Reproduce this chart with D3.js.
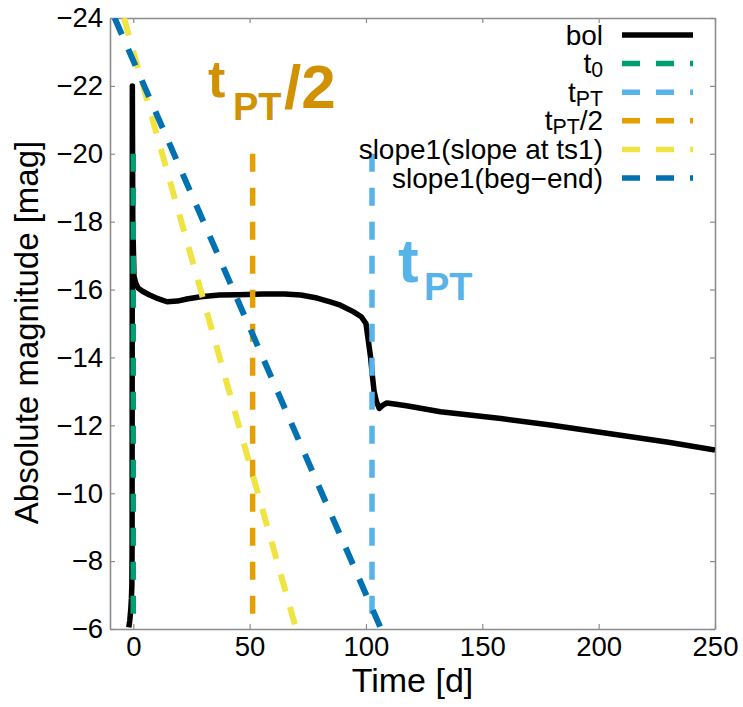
<!DOCTYPE html>
<meta charset="utf-8">
<style>
body { margin: 0; background: #fff; }
text { font-family: "Liberation Sans", Arial, Helvetica, sans-serif; }
</style>
<svg width="743" height="707"></svg>
<script src="https://cdn.jsdelivr.net/npm/d3@7"></script>
<script>
// bolometric light curve
var bolTime = [-1.9, -1.5, -1.1, -0.8, -0.6, -0.5, -0.4, -0.2, 0.3, 1, 2, 4, 7, 10, 14.5, 19, 23, 29, 37, 45, 56, 65, 72, 79, 85, 89, 94.5, 98, 100, 101, 102, 102.7, 103.5, 104.5, 105.7, 107, 109, 113, 118, 132, 158, 180, 205, 230, 250];
var bolMag  = [-6.05, -6.25, -6.55, -6.9, -7.3, -8.5, -22, -18, -16.4, -16.2, -16.05, -15.95, -15.84, -15.75, -15.64, -15.66, -15.72, -15.79, -15.84, -15.85, -15.87, -15.87, -15.84, -15.75, -15.63, -15.54, -15.35, -15.2, -15.0, -14.5, -14.0, -13.5, -13.0, -12.7, -12.5, -12.58, -12.66, -12.62, -12.57, -12.4, -12.2, -12.0, -11.75, -11.5, -11.27];

// vertical markers: t0, tPT, tPT/2
var markNames = ["t0", "tPT", "tPT/2"];
var markTimes = [0, 102.6, 51.3];
var markMag = [-20, -6];

// the two slope lines (end points)
var slopeTs1Time = [-4, 70],     slopeTs1Mag = [-24, -6];
var slopeBegEndTime = [-8, 106.5], slopeBegEndMag = [-24, -6];

var xTicks = [0, 50, 100, 150, 200, 250];
var yTicks = [-24, -22, -20, -18, -16, -14, -12, -10, -8, -6];

var legendLabels = ["bol", "t_{0}", "t_{PT}", "t_{PT}/2", "slope1(slope at ts1)", "slope1(beg\u2212end)"];
var legendColors = ["#000000", "#009e73", "#56b4e9", "#e69f00", "#f0e442", "#0072b2"];

var svg = d3.select("svg"),
    margin = {top: 18, right: 28, bottom: 78, left: 110},
    W = +svg.attr("width"), H = +svg.attr("height");

var x = d3.scaleLinear().domain([-10, 250]).range([margin.left, W - margin.right]);
var y = d3.scaleLinear().domain([-24, -6]).range([margin.top, H - margin.bottom]);

var dash = "18,16";
var font = '"Liberation Sans", Arial, Helvetica, sans-serif';

svg.append("clipPath").attr("id", "plot")
  .append("rect")
    .attr("x", x.range()[0]).attr("y", y.range()[0])
    .attr("width", x.range()[1] - x.range()[0])
    .attr("height", y.range()[1] - y.range()[0]);

// axes (ticks point inward, mirrored on top/right)
function styleAxis(g) {
  g.attr("color", "#8c8c8c").attr("font-size", 27.5).attr("font-family", font);
  g.select(".domain").attr("stroke-width", 1.6);
  g.selectAll(".tick line").attr("stroke-width", 1.2);
  g.selectAll("text").attr("fill", "#000");
}

svg.append("g")
    .attr("transform", "translate(0," + y.range()[1] + ")")
    .call(d3.axisBottom(x).tickValues(xTicks).tickSize(-5).tickSizeOuter(0).tickPadding(7))
    .call(styleAxis);
svg.append("g")
    .attr("transform", "translate(0," + y.range()[0] + ")")
    .call(d3.axisTop(x).tickValues(xTicks).tickSize(-5).tickSizeOuter(0).tickFormat(""))
    .call(styleAxis);
svg.append("g")
    .attr("transform", "translate(" + x.range()[0] + ",0)")
    .call(d3.axisLeft(y).tickValues(yTicks).tickSize(-5).tickSizeOuter(0).tickPadding(7))
    .call(styleAxis);
svg.append("g")
    .attr("transform", "translate(" + x.range()[1] + ",0)")
    .call(d3.axisRight(y).tickValues(yTicks).tickSize(-5).tickSizeOuter(0).tickFormat(""))
    .call(styleAxis);

// axis titles
svg.append("text")
    .attr("x", (x.range()[0] + x.range()[1]) / 2).attr("y", 692)
    .attr("text-anchor", "middle").attr("font-size", 34)
    .text("Time [d]");
svg.append("text")
    .attr("transform", "translate(38," + ((y.range()[0] + y.range()[1]) / 2 + 9) + ") rotate(-90)")
    .attr("text-anchor", "middle").attr("font-size", 33)
    .text("Absolute magnitude [mag]");

var plot = svg.append("g").attr("clip-path", "url(#plot)");

// bol
var line = d3.line().x(function(d) { return x(d[0]); }).y(function(d) { return y(d[1]); });
plot.append("path")
    .datum(d3.zip(bolTime, bolMag))
    .attr("d", line)
    .attr("fill", "none").attr("stroke", "#000")
    .attr("stroke-width", 5.5).attr("stroke-linejoin", "round");

// vertical markers
markTimes.forEach(function(t, i) {
  plot.append("path")
      .datum([[t, markMag[0]], [t, markMag[1]]])
      .attr("d", line)
      .attr("stroke", legendColors[i + 1]).attr("stroke-width", 5.5)
      .attr("stroke-dasharray", dash);
});

// slope lines
[[slopeTs1Time, slopeTs1Mag, legendColors[4]], [slopeBegEndTime, slopeBegEndMag, legendColors[5]]].forEach(function(s) {
  plot.append("path")
      .datum(d3.zip(s[0], s[1]))
      .attr("d", line)
      .attr("stroke", s[2]).attr("stroke-width", 6)
      .attr("stroke-dasharray", dash);
});

// text with t_{..} style subscripts
function rich(sel, label, size, shift) {
  var parts = label.split(/(_\{[^}]*\})/).filter(Boolean), down = false;
  parts.forEach(function(p) {
    if (p[0] === "_") {
      sel.append("tspan").attr("font-size", size * 0.76).attr("dy", shift).text(p.slice(2, -1));
      down = true;
    } else {
      sel.append("tspan").attr("font-size", size).attr("dy", down ? -shift : 0).text(p);
      down = false;
    }
  });
}

// legend
var leg = svg.append("g");
legendLabels.forEach(function(lab, i) {
  var ly = 35 + i * 28.6;
  var t = leg.append("text")
      .attr("x", 603).attr("y", ly + 9.5)
      .attr("text-anchor", "end").attr("font-size", 28);
  rich(t, lab, 28, 4);
  leg.append("line")
      .attr("x1", 622).attr("x2", 693).attr("y1", ly).attr("y2", ly)
      .attr("stroke", legendColors[i]).attr("stroke-width", 5.5)
      .attr("stroke-dasharray", i === 0 ? null : dash);
});

// big annotations
var a1 = svg.append("text").attr("font-weight", "bold").attr("fill", "#d29100");
a1.append("tspan").attr("x", 208).attr("y", 97).attr("font-size", 52).text("t");
a1.append("tspan").attr("x", 233).attr("y", 120).attr("font-size", 38).text("PT");
a1.append("tspan").attr("x", 284).attr("y", 108).attr("font-size", 62).text("/2");

var a2 = svg.append("text").attr("font-weight", "bold").attr("fill", "#56b4e9");
a2.append("tspan").attr("x", 398).attr("y", 282).attr("font-size", 62).text("t");
a2.append("tspan").attr("x", 424).attr("y", 300).attr("font-size", 38).text("PT");
</script>
